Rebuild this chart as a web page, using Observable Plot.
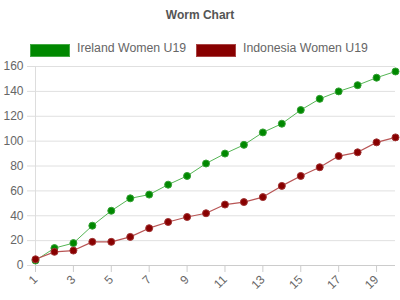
<!DOCTYPE html>
<html><head><meta charset="utf-8">
<script src="https://cdn.jsdelivr.net/npm/d3@7"></script>
<script src="https://cdn.jsdelivr.net/npm/@observablehq/plot@0.6"></script>
<style>
body{margin:0;background:#fff;font-family:"Liberation Sans",Arial,sans-serif;}
#wrap{position:relative;width:400px;height:300px;overflow:hidden;}
#title{position:absolute;left:0;top:8px;width:400px;text-align:center;font-weight:bold;font-size:12px;color:#555;}
.sw{position:absolute;top:44px;width:38px;height:11px;border:1px solid;}
.lt{position:absolute;top:41px;font-size:12.3px;color:#666;}
#chart{position:absolute;left:0;top:60px;}
</style></head>
<body><div id="wrap">
<div id="title">Worm Chart</div>
<div class="sw" style="left:30px;background:#008800;border-color:#4a4;"></div><div class="lt" style="left:77px;">Ireland Women U19</div>
<div class="sw" style="left:196px;background:#880000;border-color:#a44;"></div><div class="lt" style="left:243px;">Indonesia Women U19</div>
<div id="chart"></div>
</div>
<script>
const overs = [1,2,3,4,5,6,7,8,9,10,11,12,13,14,15,16,17,18,19,20];
const ireland = [4,14,18,32,44,54,57,65,72,82,90,97,107,114,125,134,140,145,151,156];
const indonesia = [5,11,12,19,19,23,30,35,39,42,49,51,55,64,72,79,88,91,99,103];
const xTicks = [1,3,5,7,9,11,13,15,17,19];
const yTicks = [0,20,40,60,80,100,120,140,160];
const teams = ["Ireland Women U19","Indonesia Women U19"];

const data = [];
overs.forEach((o,i)=>{
  data.push({over:o, runs:ireland[i], team:teams[0]});
  data.push({over:o, runs:indonesia[i], team:teams[1]});
});
const ire = data.filter(d=>d.team===teams[0]);
const ind = data.filter(d=>d.team===teams[1]);

const chart = Plot.plot({
  width:400, height:240,
  marginTop:6, marginBottom:35, marginLeft:35, marginRight:5,
  style:{fontFamily:"'Liberation Sans',Arial,sans-serif", fontSize:"12px", color:"#666", background:"#fff"},
  x:{domain:[1,20]},
  y:{domain:[0,160]},
  marks:[
    Plot.ruleY(yTicks.slice(1), {stroke:"#e0e0e0"}),
    Plot.ruleX([1], {stroke:"#ddd"}),
    Plot.axisY({ticks:yTicks, tickSize:8, tickPadding:4, stroke:"#ddd", fill:"#666", label:null}),
    Plot.ruleY([0], {stroke:"#ccc"}),
    Plot.axisX({ticks:xTicks, tickSize:7, tickPadding:5, tickRotate:-45, stroke:"#ccc", fill:"#666", label:null}),
    Plot.line(ire, {x:"over", y:"runs", stroke:"#55b555", strokeWidth:1}),
    Plot.line(ind, {x:"over", y:"runs", stroke:"#b85555", strokeWidth:1.2}),
    Plot.dot(ire, {x:"over", y:"runs", r:3.5, fill:"#008800", stroke:"#33a033", strokeWidth:1}),
    Plot.dot(ind, {x:"over", y:"runs", r:3.5, fill:"#880000", stroke:"#a03333", strokeWidth:1})
  ]
});
document.getElementById("chart").appendChild(chart);
</script>
</body></html>
